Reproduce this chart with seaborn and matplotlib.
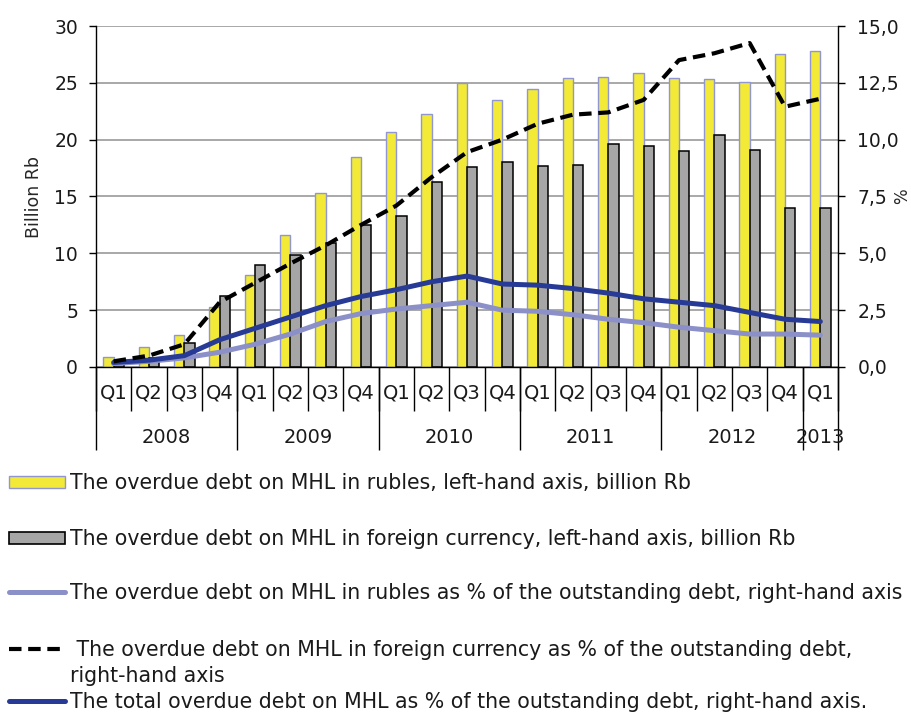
import numpy as np
import pandas as pd
import matplotlib
matplotlib.use("Agg")
import matplotlib.pyplot as plt
import seaborn as sns
from matplotlib.lines import Line2D
from matplotlib.patches import Patch

# ---- data -------------------------------------------------------------
quarters = ["Q1", "Q2", "Q3", "Q4"] * 5 + ["Q1"]
years = ["2008", "2009", "2010", "2011", "2012", "2013"]
year_lengths = [4, 4, 4, 4, 4, 1]

# overdue debt, billion Rb (left axis)
rub_bn = [0.9, 1.8, 2.8, 5.3, 8.1, 11.6, 15.35, 18.5, 20.7, 22.3, 25.0,
          23.5, 24.45, 25.4, 25.5, 25.9, 25.4, 25.35, 25.1, 27.5, 27.8]
fx_bn = [0.5, 0.8, 2.1, 6.25, 9.0, 9.85, 10.9, 12.5, 13.3, 16.3, 17.6,
         18.05, 17.7, 17.8, 19.6, 19.4, 19.0, 20.4, 19.1, 14.0, 14.0]

# overdue debt as % of outstanding debt (right axis)
rub_pct = [0.15, 0.25, 0.4, 0.65, 1.0, 1.45, 2.0, 2.35, 2.55, 2.7, 2.85,
           2.5, 2.45, 2.3, 2.1, 1.95, 1.75, 1.6, 1.45, 1.45, 1.4]
fx_pct = [0.25, 0.5, 1.0, 2.85, 3.7, 4.55, 5.35, 6.25, 7.1, 8.35, 9.45,
          10.0, 10.7, 11.1, 11.2, 11.75, 13.5, 13.8, 14.25, 11.45, 11.8]
total_pct = [0.2, 0.3, 0.5, 1.2, 1.7, 2.2, 2.7, 3.1, 3.4, 3.75, 4.0,
             3.65, 3.6, 3.45, 3.25, 3.0, 2.85, 2.7, 2.4, 2.1, 2.0]

lbl_rub_bn = "The overdue debt on MHL in rubles, left-hand axis, billion Rb"
lbl_fx_bn = "The overdue debt on MHL in foreign currency, left-hand axis, billion Rb"
lbl_rub_pct = "The overdue debt on MHL in rubles as % of the outstanding debt, right-hand axis"
lbl_fx_pct = " The overdue debt on MHL in foreign currency as % of the outstanding debt,"
lbl_fx_pct2 = "right-hand axis"
lbl_total_pct = "The total overdue debt on MHL as % of the outstanding debt, right-hand axis."

# ---- styling ----------------------------------------------------------
YELLOW = "#f2ea36"
YELLOW_EDGE = "#9096d2"
GREY = "#a6a6a6"
LIGHT_BLUE = "#8b90c8"
DARK_BLUE = "#273a95"

sns.set_theme(style="white")
plt.rcParams["font.family"] = ["DejaVu Sans"]
plt.rcParams["text.color"] = "#1a1a1a"
plt.rcParams["xtick.color"] = "black"
plt.rcParams["ytick.color"] = "black"
plt.rcParams["xtick.labelcolor"] = "#1a1a1a"
plt.rcParams["ytick.labelcolor"] = "#1a1a1a"

W, H = 912, 713
fig = plt.figure(figsize=(W / 100, H / 100), dpi=100)
ax = fig.add_axes([96 / W, 1 - 367 / H, (838 - 96) / W, (367 - 26) / H])

periods = [f"{y} {q}" for y, n in zip(years, year_lengths)
           for q in ["Q1", "Q2", "Q3", "Q4"][:n]]
df = pd.DataFrame({
    "period": periods * 2,
    "series": [lbl_rub_bn] * len(periods) + [lbl_fx_bn] * len(periods),
    "value": rub_bn + fx_bn,
})

sns.barplot(data=df, x="period", y="value", hue="series",
            hue_order=[lbl_rub_bn, lbl_fx_bn], palette=[YELLOW, GREY],
            width=0.58, saturation=1, legend=False, ax=ax, zorder=2)
for cont, ec, lw in zip(ax.containers, [YELLOW_EDGE, "black"], [1.0, 1.1]):
    for bar in cont:
        bar.set_edgecolor(ec)
        bar.set_linewidth(lw)

ax.set_ylim(0, 30)
ax.set_xlim(-0.5, len(periods) - 0.5)
ax.set_yticks(range(0, 31, 5))
ax.grid(axis="y", color="#a8a8a8", lw=1.4)
ax.set_axisbelow(True)
ax.set_xlabel("")
ax.set_ylabel("Billion Rb", fontsize=12.5, labelpad=8)
ax.tick_params(axis="y", length=5, width=1, pad=8, labelsize=13.5, left=True)

# quarter separators and labels
xpos = np.arange(len(periods))
ax.set_xticks(np.arange(-0.5, len(periods), 1.0))
ax.set_xticklabels([])
ax.tick_params(axis="x", which="major", length=32, width=1, direction="out", bottom=True)
ax.set_xticks(xpos, minor=True)
ax.set_xticklabels(quarters, minor=True)
ax.tick_params(axis="x", which="minor", length=0, pad=12, labelsize=14)

# year separators and labels
bounds = np.concatenate([[-0.5], np.cumsum(year_lengths) - 0.5])
centers = (bounds[:-1] + bounds[1:]) / 2
sec = ax.secondary_xaxis("bottom")
sec.set_xticks(bounds)
sec.set_xticklabels([""] * len(bounds))
sec.tick_params(axis="x", which="major", length=60, width=1, direction="out")
sec.set_xticks(centers, minor=True)
sec.set_xticklabels(years, minor=True)
sec.tick_params(axis="x", which="minor", length=0, pad=44, labelsize=14)
sec.spines["bottom"].set_visible(False)

for side in ["top", "right"]:
    ax.spines[side].set_visible(False)
for side in ["left", "bottom"]:
    ax.spines[side].set_color("black")
    ax.spines[side].set_linewidth(1)

# percentage lines on the right axis
ax2 = ax.twinx()
sns.lineplot(x=xpos, y=rub_pct, color=LIGHT_BLUE, lw=3.6, ax=ax2, zorder=3)
sns.lineplot(x=xpos, y=total_pct, color=DARK_BLUE, lw=3.6, ax=ax2, zorder=4)
sns.lineplot(x=xpos, y=fx_pct, color="black", lw=3.0, ax=ax2, zorder=5)
ax2.lines[-1].set_dashes((3, 1.6))
ax2.set_ylim(0, 15)
ax2.set_xlim(-0.5, len(periods) - 0.5)
ticks2 = np.arange(0, 15.01, 2.5)
ax2.set_yticks(ticks2)
ax2.set_yticklabels([f"{t:.1f}".replace(".", ",") for t in ticks2])
ax2.tick_params(axis="y", length=5, width=1, pad=9, labelsize=13.5, right=True)
ax2.set_ylabel("%", fontsize=12)
ax2.yaxis.set_label_coords((893 - 96) / (838 - 96), (367 - 196) / (367 - 26))
ax2.grid(False)
for side in ["top", "left", "bottom"]:
    ax2.spines[side].set_visible(False)
ax2.spines["right"].set_color("black")
ax2.spines["right"].set_linewidth(1)

# legend below the chart, one entry per row
FS = 14.8
entries = [
    (Patch(facecolor=YELLOW, edgecolor=YELLOW_EDGE, lw=1.0), lbl_rub_bn, 483),
    (Patch(facecolor=GREY, edgecolor="black", lw=1.2), lbl_fx_bn, 539),
    (Line2D([], [], color=LIGHT_BLUE, lw=3.6), lbl_rub_pct, 593),
    (Line2D([], [], color="black", lw=3.0, dashes=(3, 1.6)), lbl_fx_pct, 650),
    (Line2D([], [], color=DARK_BLUE, lw=3.6), lbl_total_pct, 702),
]
for handle, label, y in entries:
    fig.legend(handles=[handle], labels=[label], loc="center left",
               bbox_to_anchor=(9 / W, 1 - y / H), frameon=False, fontsize=FS,
               handlelength=2.7, handleheight=0.55, handletextpad=0.25,
               borderpad=0, borderaxespad=0)
fig.text(70 / W, 1 - 676 / H, lbl_fx_pct2, fontsize=FS, va="center", ha="left")

fig.savefig("out.png", dpi=100)
